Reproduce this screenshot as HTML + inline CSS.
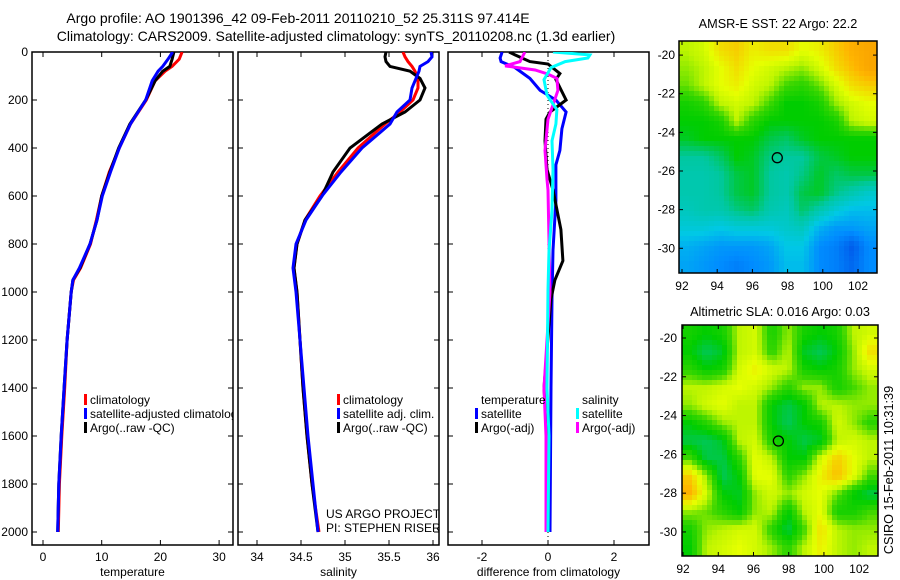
<!DOCTYPE html>
<html><head><meta charset="utf-8"><style>
html,body{margin:0;padding:0;background:#fff;}
svg{display:block;font-family:"Liberation Sans",sans-serif;}
text{font-size:12px;fill:#000;}
.title{font-size:14px;}
.mt{font-size:12.7px;}
</style></head><body>
<svg id="fig" width="900" height="580" viewBox="0 0 900 580">
<defs>
<clipPath id="c1"><rect x="32" y="52" width="201" height="493"/></clipPath>
<clipPath id="c2"><rect x="238" y="52" width="201" height="493"/></clipPath>
<clipPath id="c3"><rect x="448" y="52" width="201" height="493"/></clipPath>
</defs>
<text class="title" x="298" y="23" text-anchor="middle">Argo profile: AO 1901396_42 09-Feb-2011 20110210_52 25.311S 97.414E</text>
<text class="title" x="336" y="41" text-anchor="middle">Climatology: CARS2009. Satellite-adjusted climatology: synTS_20110208.nc (1.3d earlier)</text>
<text class="mt" x="778" y="28" text-anchor="middle">AMSR-E SST: 22 Argo: 22.2</text>
<text class="mt" x="780" y="316" text-anchor="middle">Altimetric SLA: 0.016 Argo: 0.03</text>
<text class="mt" transform="translate(893,470) rotate(-90)" text-anchor="middle">CSIRO 15-Feb-2011 10:31:39</text>
<g id="p1"></g>
<g id="p2"></g>
<g id="p3"></g>
<g id="m1"></g>
<g id="m2"></g>
</svg>
<script>
// ---- data ----
const depthTicks=[0,200,400,600,800,1000,1200,1400,1600,1800,2000];
const tempTicks=[0,10,20,30];
const salTicks=[34,34.5,35,35.5,36];
const diffTicks=[-2,0,2];
const tDepth=[0,30,60,80,120,200,300,400,500,600,700,800,900,950,1000,1200,1400,1600,1800,2000];
const tArgo=[22.3,22.0,21.6,20.4,19.1,17.5,14.8,12.9,11.4,10.0,9.2,8.0,6.3,5.1,4.8,4.1,3.6,3.1,2.7,2.5];
const tClim=[23.7,23.2,22.0,20.8,19.1,17.6,14.9,13.0,11.3,10.0,9.1,8.1,6.4,5.2,4.8,4.1,3.7,3.2,2.8,2.6];
const tSat=[22.1,21.3,20.4,19.6,18.6,17.5,14.9,13.0,11.5,10.1,9.2,8.0,6.2,5.1,4.8,4.1,3.6,3.1,2.7,2.5];
const sDepth=[0,20,40,60,80,110,150,200,250,300,400,500,600,700,800,900,1000,1200,1400,1600,1800,2000];
const sArgo=[35.466,35.455,35.466,35.511,35.739,35.852,35.909,35.852,35.682,35.420,35.057,34.864,34.739,34.545,34.455,34.420,34.455,34.489,34.523,34.568,34.625,34.693];
const sClim=[35.659,35.682,35.716,35.761,35.795,35.830,35.830,35.773,35.625,35.455,35.148,34.920,34.716,34.545,34.455,34.420,34.455,34.489,34.523,34.568,34.625,34.705];
const sSat=[35.977,35.989,35.943,35.852,35.841,35.807,35.761,35.739,35.591,35.511,35.193,34.955,34.739,34.557,34.443,34.409,34.443,34.489,34.534,34.580,34.636,34.693];
const dTSatDepth=[0,25,40,65,110,160,200,250,320,410,470,620,825,1030,1400,2000];
const dTSat=[-1.39,-1.45,-1.42,-1.0,-0.55,-0.24,0.24,0.55,0.42,0.36,0.24,0.24,0.15,0.12,0.09,0.06];
const dTArgoDepth=[0,12,40,50,90,115,200,250,280,370,490,575,740,870,950,1030,1400,1600,2000];
const dTArgo=[-1.18,-1.0,-0.55,0,0.36,0.24,0.55,0.06,-0.06,-0.09,-0.03,0.15,0.39,0.45,0.21,0.09,-0.12,-0.03,0];
const dSArgoDepth=[0,40,58,75,92,110,160,220,280,410,530,575,1000,1400,1600,2000];
const dSArgo=[-0.7,-0.85,-1.3,-0.39,0,0.27,0.3,0.15,0,-0.09,-0.03,0,0.06,-0.12,-0.06,-0.06];
const dSSatDepth=[0,12,25,40,65,115,180,240,300,370,490,660,830,990,1400,1600,2000];
const dSSat=[0.15,1.27,1.21,0.52,0.09,-0.12,-0.03,0.27,0.24,0.12,0.15,0.12,0.03,0,-0.03,0.03,0];
const lonTicks=[92,94,96,98,100,102];
const latTicks=[-20,-22,-24,-26,-28,-30];
const sstGrid=[
[0.72,0.74,0.8,0.82,0.78,0.8,0.8,0.76,0.78,0.82,0.86,0.88],
[0.7,0.72,0.76,0.8,0.76,0.74,0.72,0.7,0.74,0.8,0.84,0.88],
[0.68,0.72,0.76,0.78,0.74,0.72,0.66,0.64,0.68,0.74,0.8,0.82],
[0.62,0.64,0.72,0.74,0.72,0.66,0.6,0.6,0.62,0.7,0.74,0.76],
[0.6,0.6,0.62,0.72,0.64,0.6,0.6,0.6,0.6,0.62,0.72,0.74],
[0.58,0.6,0.6,0.6,0.6,0.56,0.54,0.58,0.6,0.6,0.6,0.6],
[0.5,0.5,0.54,0.6,0.58,0.52,0.5,0.5,0.56,0.58,0.6,0.6],
[0.48,0.48,0.5,0.56,0.58,0.5,0.48,0.52,0.58,0.54,0.56,0.56],
[0.48,0.48,0.5,0.56,0.58,0.5,0.48,0.56,0.58,0.52,0.48,0.44],
[0.46,0.48,0.48,0.52,0.54,0.48,0.46,0.54,0.48,0.42,0.38,0.38],
[0.42,0.42,0.4,0.42,0.42,0.42,0.44,0.46,0.36,0.32,0.32,0.34],
[0.36,0.34,0.32,0.32,0.32,0.34,0.4,0.4,0.3,0.28,0.22,0.3],
[0.34,0.32,0.3,0.28,0.3,0.32,0.38,0.38,0.3,0.28,0.24,0.3]];
const slaGrid=[
[0.62,0.6,0.62,0.72,0.74,0.62,0.7,0.62,0.6,0.62,0.72,0.74],
[0.6,0.55,0.58,0.72,0.74,0.64,0.72,0.58,0.55,0.6,0.7,0.8],
[0.64,0.6,0.62,0.74,0.78,0.74,0.72,0.62,0.6,0.62,0.7,0.74],
[0.72,0.72,0.74,0.76,0.74,0.7,0.64,0.7,0.7,0.62,0.66,0.7],
[0.7,0.74,0.76,0.72,0.72,0.6,0.56,0.6,0.72,0.72,0.7,0.7],
[0.6,0.64,0.7,0.72,0.72,0.6,0.55,0.6,0.62,0.74,0.7,0.64],
[0.56,0.55,0.58,0.72,0.74,0.62,0.6,0.56,0.58,0.72,0.74,0.72],
[0.66,0.56,0.56,0.64,0.76,0.72,0.6,0.6,0.74,0.82,0.76,0.72],
[0.82,0.7,0.55,0.6,0.76,0.76,0.64,0.7,0.78,0.84,0.76,0.66],
[0.86,0.74,0.6,0.58,0.7,0.74,0.7,0.74,0.76,0.68,0.6,0.56],
[0.7,0.68,0.64,0.6,0.7,0.72,0.6,0.72,0.76,0.62,0.62,0.66],
[0.62,0.7,0.72,0.74,0.74,0.64,0.56,0.66,0.8,0.72,0.7,0.7],
[0.6,0.72,0.74,0.76,0.74,0.7,0.64,0.72,0.78,0.72,0.7,0.72]];
const floatLon=97.414, floatLat=-25.311;

// ---- helpers ----
const NS='http://www.w3.org/2000/svg';
function mk(parent,tag,attrs,txt){const e=document.createElementNS(NS,tag);for(const k in attrs)e.setAttribute(k,attrs[k]);if(txt!==undefined)e.textContent=txt;parent.appendChild(e);return e;}
const yD=d=>52+d*0.24;

function panel(g,x0,x1,xs,ticks,fmt,xlabel,clip,showY){
  const r=mk(g,'rect',{x:x0,y:52,width:x1-x0,height:493,fill:'none',stroke:'#000','stroke-width':1.5});
  
  
  depthTicks.forEach(d=>{
    const y=yD(d);
    mk(g,'line',{x1:x0,x2:x0+5,y1:y,y2:y,stroke:'#000'});
    mk(g,'line',{x1:x1-5,x2:x1,y1:y,y2:y,stroke:'#000'});
    if(showY){const t=mk(g,'text',{x:x0-4,y:y+4,'text-anchor':'end'},d);
      
      }
  });
  ticks.forEach(v=>{
    const x=xs(v);
    mk(g,'line',{x1:x,x2:x,y1:52,y2:57,stroke:'#000'});
    mk(g,'line',{x1:x,x2:x,y1:540,y2:545,stroke:'#000'});
    const t=mk(g,'text',{x:x,y:561,'text-anchor':'middle'},fmt(v));
    
    
  });
  const lb=mk(g,'text',{x:(x0+x1)/2,y:576,'text-anchor':'middle'},xlabel);
  
  
}
function line(g,xs,depths,vals,color,name,clip,w){
  const pts=depths.map((d,i)=>xs(vals[i]).toFixed(1)+','+yD(d).toFixed(1)).join(' ');
  const p=mk(g,'polyline',{points:pts,fill:'none',stroke:color,'stroke-width':w||3,'clip-path':'url(#'+clip+')','stroke-linejoin':'miter'});
  
  
}
function legend(g,x,y,color,label,clip,name){
  if(color) mk(g,'rect',{x:x-6,y:y-10,width:3,height:11,fill:color});
  const t=mk(g,'text',{x:x,y:y,'clip-path':clip?'url(#'+clip+')':''},label);
  
  
}

// panel 1
const g1=document.getElementById('p1');
const xT=v=>43+v*5.87;
panel(g1,32,233,xT,tempTicks,v=>v,'temperature','c1',true);
line(g1,xT,tDepth,tClim,'#f00','temp-climatology-line','c1');
line(g1,xT,tDepth,tArgo,'#000','temp-argo-line','c1');
line(g1,xT,tDepth,tSat,'#00f','temp-satellite-line','c1');
legend(g1,90,404,'#f00','climatology','c1','legend-climatology');
legend(g1,90,418,'#00f','satellite-adjusted climatology','c1','legend-satellite-adjusted');
legend(g1,90,432,'#000','Argo(..raw -QC)','c1','legend-argo');

// panel 2
const g2=document.getElementById('p2');
const xS=v=>257+(v-34)*88;
panel(g2,238,439,xS,salTicks,v=>v,'salinity','c2',false);
line(g2,xS,sDepth,sClim,'#f00','sal-climatology-line','c2');
line(g2,xS,sDepth,sArgo,'#000','sal-argo-line','c2');
line(g2,xS,sDepth,sSat,'#00f','sal-satellite-line','c2');
legend(g2,343,404,'#f00','climatology','c2','legend-climatology');
legend(g2,343,418,'#00f','satellite adj. clim.','c2','legend-satellite-adj');
legend(g2,343,432,'#000','Argo(..raw -QC)','c2','legend-argo');
legend(g2,326,518,null,'US ARGO PROJECT','c2','project-label');
legend(g2,326,532,null,'PI: STEPHEN RISER','c2','pi-label');

// panel 3
const g3=document.getElementById('p3');
const xDf=v=>548+v*33;
panel(g3,448,649,xDf,diffTicks,v=>v,'difference from climatology','c3',false);
const zl=mk(g3,'line',{x1:548,x2:548,y1:52,y2:545,stroke:'#000','stroke-dasharray':'1,3'});


line(g3,xDf,dTSatDepth,dTSat,'#00f','diff-temp-satellite-line','c3');
line(g3,xDf,dTArgoDepth,dTArgo,'#000','diff-temp-argo-line','c3');
line(g3,xDf,dSArgoDepth,dSArgo,'#f0f','diff-sal-argo-line','c3');
line(g3,xDf,dSSatDepth,dSSat,'#0ff','diff-sal-satellite-line','c3');
legend(g3,481,404,null,'temperature','c3','legend-temperature-header');
legend(g3,481,418,'#00f','satellite','c3','legend-temp-satellite');
legend(g3,481,432,'#000','Argo(-adj)','c3','legend-temp-argo');
legend(g3,582,404,null,'salinity','c3','legend-salinity-header');
legend(g3,582,418,'#0ff','satellite','c3','legend-sal-satellite');
legend(g3,582,432,'#f0f','Argo(-adj)','c3','legend-sal-argo');

// maps
const stops=[[0,[0,40,200]],[0.2,[0,80,230]],[0.3,[0,140,255]],[0.4,[0,200,230]],[0.5,[0,200,160]],[0.56,[0,200,70]],[0.6,[0,205,0]],[0.66,[60,215,0]],[0.72,[190,245,0]],[0.76,[230,255,0]],[0.85,[255,180,0]],[1,[230,110,0]]];
function col(v){
  for(let i=1;i<stops.length;i++){if(v<=stops[i][0]){const a=stops[i-1],b=stops[i];const t=(v-a[0])/(b[0]-a[0]);
    return 'rgb('+a[1].map((c,k)=>Math.round(c+(b[1][k]-c)*t)).join(',')+')';}}
  return 'rgb(230,110,0)';
}
function map(id,grid,x0,x1,y0,y1,lonA,lonB,latA,latB,labelX){
  const g=document.getElementById(id);
  const lx=lon=>x0+(lon-lonA)/(lonB-lonA)*(x1-x0);
  const ly=lat=>y0+(latA-lat)/(latA-latB)*(y1-y0);
  const rows=grid.length, cols=grid[0].length, step=5;
  for(let py=y0;py<y1;py+=step){
    for(let px=x0;px<x1;px+=step){
      const fx=Math.min(cols-1.001,Math.max(0,(px+step/2-x0)/(x1-x0)*cols-0.5));
      const fy=Math.min(rows-1.001,Math.max(0,(py+step/2-y0)/(y1-y0)*rows-0.5));
      const i=Math.floor(fy),j=Math.floor(fx),ty=fy-i,tx=fx-j;
      const v=grid[i][j]*(1-tx)*(1-ty)+grid[i][j+1]*tx*(1-ty)+grid[i+1][j]*(1-tx)*ty+grid[i+1][j+1]*tx*ty;
      const c=mk(g,'rect',{x:px,y:py,width:Math.min(step,x1-px)+0.5,height:Math.min(step,y1-py)+0.5,fill:col(v)});
      
      
    }
  }
  const f=mk(g,'rect',{x:x0,y:y0,width:x1-x0,height:y1-y0,fill:'none',stroke:'#000','stroke-width':1.5});
  
  
  lonTicks.forEach(l=>{const x=lx(l);
    mk(g,'line',{x1:x,x2:x,y1:y0,y2:y0+4,stroke:'#000'});mk(g,'line',{x1:x,x2:x,y1:y1-4,y2:y1,stroke:'#000'});
    const t=mk(g,'text',{x:x,y:y1+17,'text-anchor':'middle'},l);
    
    });
  latTicks.forEach(l=>{const y=ly(l);
    mk(g,'line',{x1:x0,x2:x0+4,y1:y,y2:y,stroke:'#000'});mk(g,'line',{x1:x1-4,x2:x1,y1:y,y2:y,stroke:'#000'});
    const t=mk(g,'text',{x:labelX,y:y+4,'text-anchor':'end'},l);
    
    });
  const c=mk(g,'circle',{cx:lx(floatLon),cy:ly(floatLat),r:5,fill:'none',stroke:'#000','stroke-width':1.3});
  
  
}
map('m1',sstGrid,679,877,41,273,91.83,103.08,-19.27,-31.28,675);
map('m2',slaGrid,682,878,325,556,91.94,103.07,-19.33,-31.24,677);
</script>
</body></html>
